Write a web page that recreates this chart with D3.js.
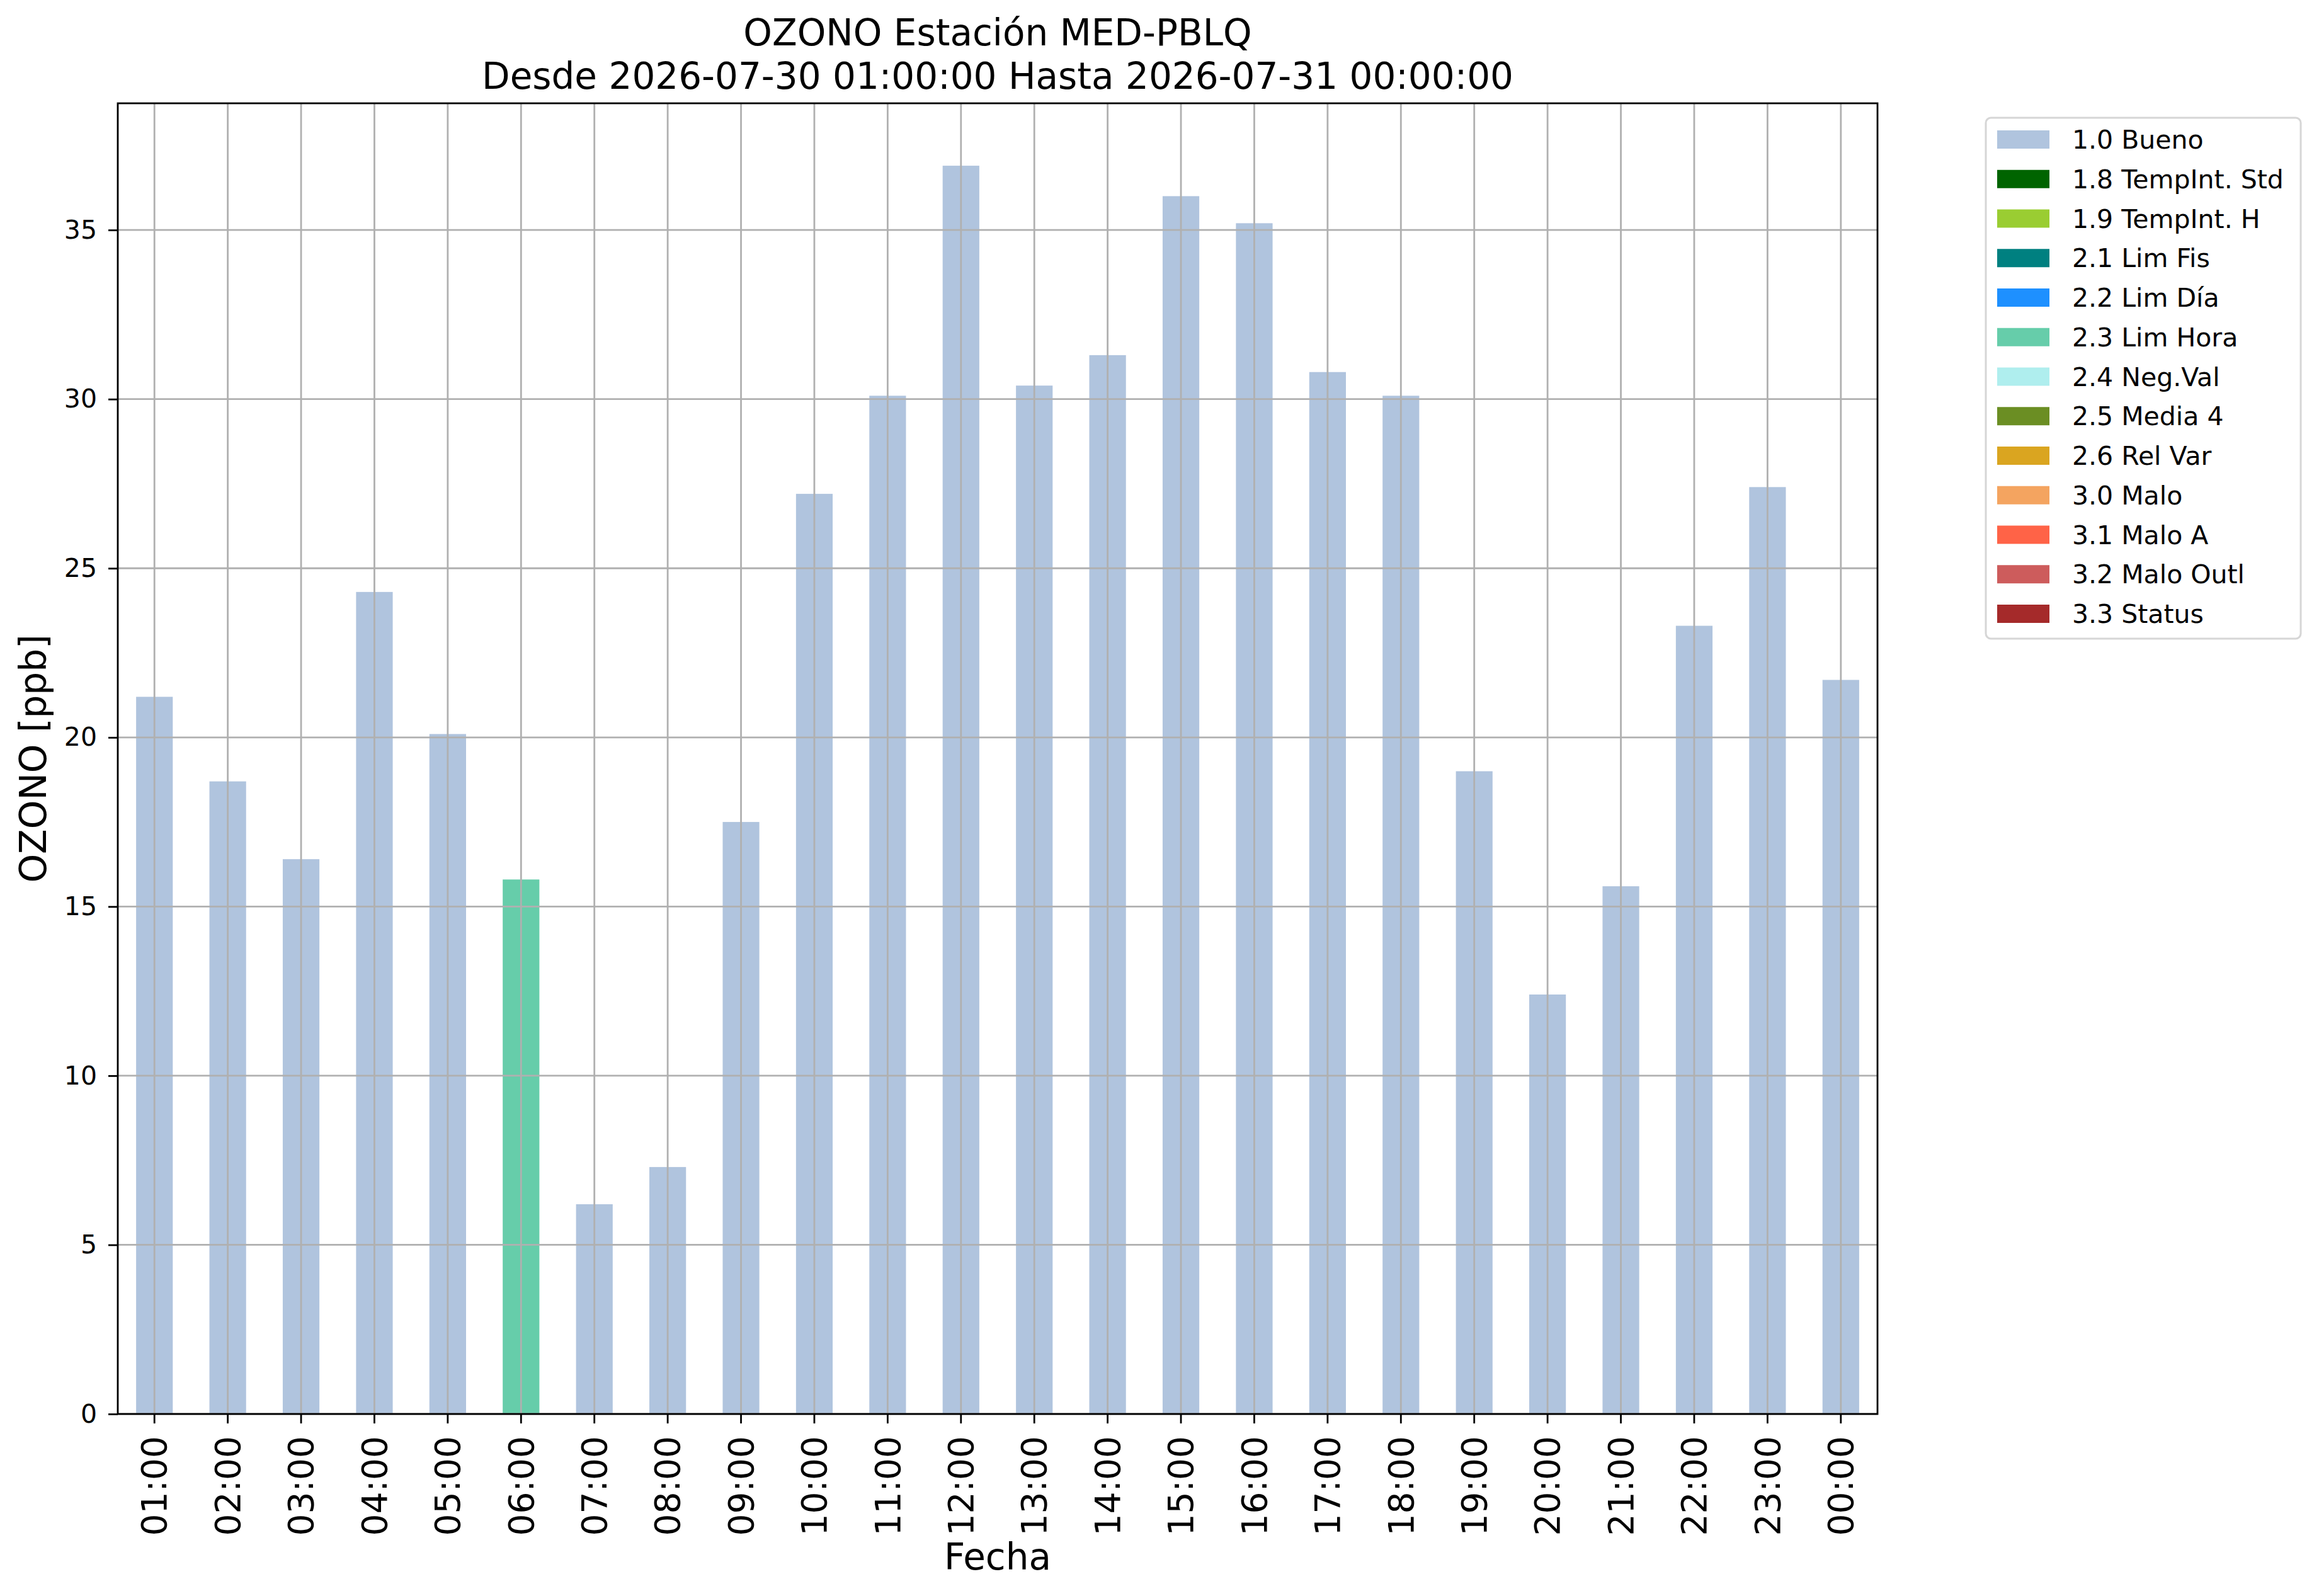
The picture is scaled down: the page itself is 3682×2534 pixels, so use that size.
<!DOCTYPE html>
<html>
<head>
<meta charset="utf-8">
<script src="https://d3js.org/d3.v7.min.js"></script>
<style>
  body { margin: 0; background: #fff; }
  text { font-family: "DejaVu Sans", sans-serif; fill: #000; }
</style>
</head>
<body>
<div id="chart"></div>
<script>
// datos
const horas = ["01:00","02:00","03:00","04:00","05:00","06:00","07:00","08:00","09:00","10:00","11:00","12:00",
               "13:00","14:00","15:00","16:00","17:00","18:00","19:00","20:00","21:00","22:00","23:00","00:00"];
const ozono = [21.2, 18.7, 16.4, 24.3, 20.1, 15.8, 6.2, 7.3, 17.5, 27.2, 30.1, 36.9,
               30.4, 31.3, 36.0, 35.2, 30.8, 30.1, 19.0, 12.4, 15.6, 23.3, 27.4, 21.7];
const banderaHora = ["1.0 Bueno","1.0 Bueno","1.0 Bueno","1.0 Bueno","1.0 Bueno","2.3 Lim Hora",
                     "1.0 Bueno","1.0 Bueno","1.0 Bueno","1.0 Bueno","1.0 Bueno","1.0 Bueno",
                     "1.0 Bueno","1.0 Bueno","1.0 Bueno","1.0 Bueno","1.0 Bueno","1.0 Bueno",
                     "1.0 Bueno","1.0 Bueno","1.0 Bueno","1.0 Bueno","1.0 Bueno","1.0 Bueno"];
const banderas = ["1.0 Bueno","1.8 TempInt. Std","1.9 TempInt. H","2.1 Lim Fis","2.2 Lim Día","2.3 Lim Hora",
                  "2.4 Neg.Val","2.5 Media 4","2.6 Rel Var","3.0 Malo","3.1 Malo A","3.2 Malo Outl","3.3 Status"];
const coloresBandera = ["#b0c4de","#006400","#9acd32","#008080","#1e90ff","#66cdaa",
                        "#afeeee","#6b8e23","#daa520","#f4a460","#ff6347","#cd5c5c","#a52a2a"];
const ticksY = [0, 5, 10, 15, 20, 25, 30, 35];

const width = 3682, height = 2534;
const margin = {left: 187, right: 3682 - 2981, top: 164, bottom: 2534 - 2245};
const gridColor = "#b0b0b0";

// tabla para apilar: una columna por bandera
const tabla = horas.map((h, i) => {
    const fila = {hora: h};
    banderas.forEach(b => { fila[b] = banderaHora[i] === b ? ozono[i] : 0; });
    return fila;
});
const series = d3.stack().keys(banderas)(tabla);

const svg = d3.select("#chart").append("svg")
    .attr("width", width)
    .attr("height", height);

const x = d3.scaleBand()
    .domain(horas)
    .range([margin.left, width - margin.right])
    .paddingInner(0.5)
    .paddingOuter(0.25);

const y = d3.scaleLinear()
    .domain([0, d3.max(ozono) * 1.05])
    .range([height - margin.bottom, margin.top]);

// barras apiladas
svg.append("g").selectAll("g")
    .data(series)
    .join("g")
    .attr("fill", (d, i) => coloresBandera[i])
    .selectAll("rect")
    .data(d => d)
    .join("rect")
    .attr("x", d => x(d.data.hora))
    .attr("width", x.bandwidth())
    .attr("y", d => y(d[1]))
    .attr("height", d => y(d[0]) - y(d[1]));

// grilla sobre las barras
const grid = svg.append("g").attr("stroke", gridColor).attr("stroke-width", 2.8);
grid.selectAll(".gy").data(ticksY).join("line")
    .attr("x1", margin.left).attr("x2", width - margin.right)
    .attr("y1", d => y(d)).attr("y2", d => y(d));
grid.selectAll(".gx").data(horas).join("line")
    .attr("x1", d => x(d) + x.bandwidth() / 2).attr("x2", d => x(d) + x.bandwidth() / 2)
    .attr("y1", margin.top).attr("y2", height - margin.bottom);

// ejes
const ejeY = svg.append("g")
    .attr("transform", `translate(${margin.left},0)`)
    .call(d3.axisLeft(y).tickValues(ticksY).tickFormat(d3.format("d")).tickSize(15).tickPadding(18));
ejeY.select(".domain").remove();
ejeY.selectAll("line").attr("stroke", "#000").attr("stroke-width", 2.8);
ejeY.selectAll("text").attr("font-size", 41).attr("font-family", "DejaVu Sans");

const ejeX = svg.append("g")
    .attr("transform", `translate(0,${height - margin.bottom})`)
    .call(d3.axisBottom(x).tickSize(15).tickSizeOuter(0));
ejeX.select(".domain").remove();
ejeX.selectAll("line").attr("stroke", "#000").attr("stroke-width", 2.8);
ejeX.selectAll("text")
    .attr("font-size", 55)
    .attr("font-family", "DejaVu Sans")
    .attr("text-anchor", "end")
    .attr("transform", "rotate(-90)")
    .attr("x", -35)
    .attr("y", 0)
    .attr("dy", "0.35em");

// marco
svg.append("rect")
    .attr("x", margin.left)
    .attr("y", margin.top)
    .attr("width", width - margin.left - margin.right)
    .attr("height", height - margin.top - margin.bottom)
    .attr("fill", "none")
    .attr("stroke", "#000")
    .attr("stroke-width", 2.8);

// titulos
const cx = (margin.left + width - margin.right) / 2;
svg.append("text").attr("x", cx).attr("y", 72).attr("text-anchor", "middle").attr("font-size", 58)
    .text("OZONO Estación MED-PBLQ");
svg.append("text").attr("x", cx).attr("y", 141).attr("text-anchor", "middle").attr("font-size", 58)
    .text("Desde 2026-07-30 01:00:00 Hasta 2026-07-31 00:00:00");
svg.append("text").attr("x", cx).attr("y", 2492).attr("text-anchor", "middle").attr("font-size", 58)
    .text("Fecha");
svg.append("text")
    .attr("transform", `translate(73,${(margin.top + height - margin.bottom) / 2}) rotate(-90)`)
    .attr("text-anchor", "middle").attr("font-size", 58)
    .text("OZONO [ppb]");

// leyenda
const leyenda = svg.append("g").attr("transform", "translate(3153,187)");
leyenda.append("rect")
    .attr("width", 500).attr("height", 827)
    .attr("rx", 8)
    .attr("fill", "#fff").attr("fill-opacity", 0.8)
    .attr("stroke", "#d6d6d6").attr("stroke-width", 3);
const filas = leyenda.selectAll("g.item")
    .data(banderas)
    .join("g")
    .attr("class", "item")
    .attr("transform", (d, i) => `translate(0,${20 + i * 62.75})`);
filas.append("rect")
    .attr("x", 18).attr("width", 83).attr("height", 29)
    .attr("fill", (d, i) => coloresBandera[i]);
filas.append("text")
    .attr("x", 137).attr("y", 29)
    .attr("font-size", 41)
    .text(d => d);
</script>
</body>
</html>
